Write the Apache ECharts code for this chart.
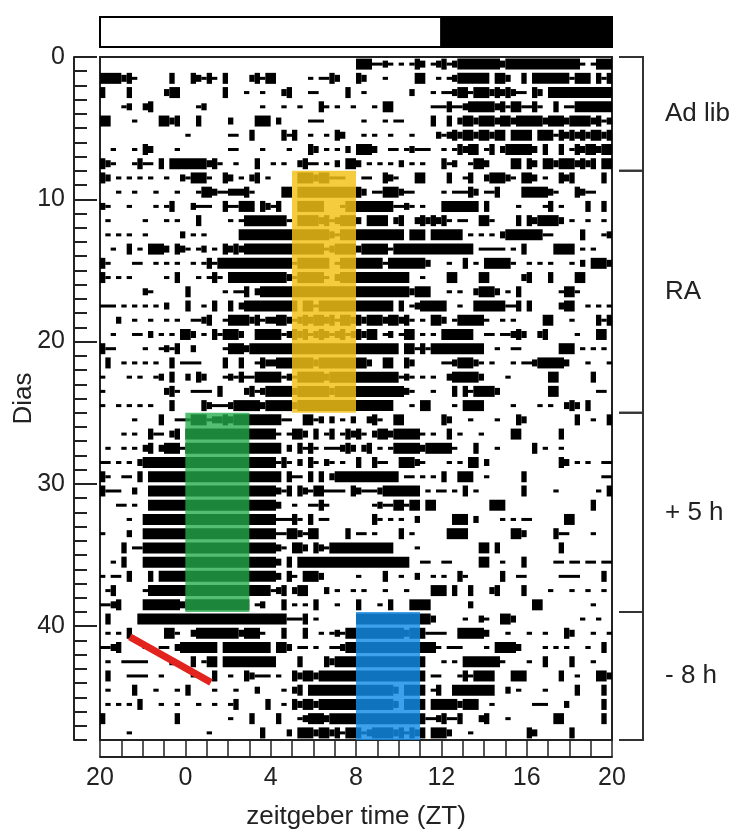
<!DOCTYPE html>
<html>
<head>
<meta charset="utf-8">
<script src="https://cdn.jsdelivr.net/npm/echarts@6/dist/echarts.min.js"></script>
<style>
  html, body { margin: 0; padding: 0; background: #fff; }
  #chart { width: 734px; height: 832px; }
</style>
</head>
<body>
<div id="chart"></div>
<script>
// actogram: one row per day, 15-min bins from ZT20 (-4) to ZT20, written in 4-h groups
// . no activity, - trace, + some, # lots
const activityRows = [
  ["................","................","................","###--+-.-.-#+.-+","#-+########+####","##########-.-###"],
  ["####+#-......#..",".#+-#-.#....+#-#","#......-.--#+...","#+...-.....##..-",".-+######.##+..#",".#######-###.#-#"],
  ["#....#......+##.",".......#...-..-.","..+#...--.....#.",".-........+...-.","--+##-###+#+#+--",".#+.############"],
  ["....-+..+#......","..-+..........-.","..-..-...#-.-..-","...-.##.......--","-#--+#####+#-##-","-#-..#.--#######"],
  ["##....-....##+#.","..#.....+....###",".+.....---......",".-...-.--.....#.",".#.+##+###+##+##","###+###+####+#-+"],
  ["................","-.......--..#...","..#-#..-..-.#+..",".-.-..-...-....+","-+#+##+##+##.###","#.###-#+#+#+##+#"],
  ["..-...-.#+....-.","........--....-.","...-...#+.-.-.+.","###+..--.-+---..","-.-#+##.-#.+####","#+.#..#.-#+##+##"],
  ["#+-...-#--.#.###","####+#-..-...#..","-.-..+#--.-.+.##","+.-.-.-.+.-.-...","#-+..-##+....##.","#+.##+###+#+#.##"],
  ["#+.-.-.-.-..-..+","-###-..#+.-.+#.-",".....###+##---..",".--..#+-...##...",".#..-#..+###+-.#","#+.-..#+#.....#."],
  ["...-..-...-...-.","..-##+--+++#-...","..##.###########","#+.--###+--.....","-.---#+.--#....#","####+-...#+--..."],
  ["+-...-....-.-#..",".+---..#--###.#+","-#...#####...-##","#######--+-.-...","#######.#.....-.","...-#.-....#..#."],
  [".-......-...-.-.","..#.....-.-#####","###-.####+#-+###","+.####.+#..+#+#+","#-.--..##-....#.","#+####+.-..-..-."],
  [".-.-.-..-......+",".-.-......######","###########+-###","#########.###.##","####.-.-.-.+####","###--.....#...-+"],
  ["..-..#.-.###+.#+","-.-+.-.#+#+#####","##########-+####","+#####-#########","######.-----.-.#",".....####.-.-..."],
  ["#-....--..-.-.-.",".-.-#-##########","####-######.-###","#####-#######+..",".-..#.-.#####-..","-.-.-...-.+.###+"],
  ["#-.-.-......-.#.","..-.-#-.########","###+-#####-.+###","##########..-...",".##....##......+","#...#....##....."],
  ["........+-......","#......-.--#.+##","################","##########+###..",".-.-..+###+.-.#.","......-##-......"],
  ["---.-.-.-.-.+...","#..-.#..#.+#####","#####.##-#######","#######.#.-+####","#..-..######--#.","#.....+##..-.-.-"],
  ["...+..-..-..-.-.",".--+#..-####+#-+","+##+-+#+##+#-##+","#+###+##+#-.-.##","+.-#####-..-.-..","...##...-....#-#"],
  ["..-...--.+.-.-.#","#+.-.#-###+..###","##-+#+#-+#+-+#-+","#+##.-+.-##.-.-.","######..--.--+#+","..+#.....-...##."],
  ["#--.....-..-+-#.",".+.....-###+####","################","########.##-#-##","########..-..--.","......###.-.-.-."],
  [".#..-.-.-.-..#.-","---....#..#..-#+","+#######+#######","##+..##..#+.....","--+###+-.-...-.-","-+#####+...-...-"],
  ["-....-.-..-+.#..","+.#+...-+-#--###","##-+-#####+#####","########-+-.-.-.",".+#####+....-...","....##......#..."],
  ["-...........+#-.",".----.#....+#-+#","####+######+####","#########+-...-.","..#.#-####+.....","....##.......--."],
  ["-..-.-.-.-...#..","...#+---+#####+#","####+###########","#######...-.##..","..-.####.....-..","..-.-..+#+.#...."],
  ["......-....#..--","-###-++#+#######","##--..##-+.+.-.+","..+#-..##.......","#+...-....-...#+",".........#..-..#"],
  ["....-.-..#--.+#.","################","#-.-##+.#.-#.-#+","#-.+##+#####-.-.",".#.-...-.....##.","......#........."],
  [".-..-.-.+#.+###-","################","##.+.#-#-.---+#+",".+#.-.-#####+###","##-...#...-.....",".#.-..-........."],
  ["--.-.-.+########","################","#-#-.+.#-.+-.-..","#..#--..###+-...",".-.-.##.+.......","......#+.-.-..--"],
  ["#-..--.#.#######","################","##.#--.#.#.+####","########.--.-.-.","#..###..-......#","..............--"],
  ["#---..+..#######","################","#+-#.#+-##----.#","+---+#######.-.-","-.-.#.-........#",".....-.......-.#"],
  ["...--.-..#######","################","#+..-..--#-.....","...-+--##-##.##.",".........###....","............#..."],
  [".....-..########","################","#---#-.#.--.....","...#-.-.-..+....","..###.+....-.-.-","-......##......."],
  ["-....+..########","################","#--##+-##.....#.","--.-....#.-.....",".####........##+",".....#--....-..."],
  ["....#.--########","################","#+-.##+.#+-#####","#######....-....",".......##.#.....","......#........."],
  ["..-.#...########","################","#+.#.###########","##########..--..","--.....##..-...#",".....--.--.--.--"],
  ["-.--.#...#.#####","################","#+.#-.###+......","-....#..-..+..-.","-..#-......#..--","......----....#."],
  [".-#.....-#######","################","-+#.+##...+.-..-",".-...-...-....##","#.#..#...+#....#","....-...-..-..-."],
  ["--+#....#######+","############.-+.","..#.-.-.#...-...","#...-.#...####..",".....+..........",".##.........-..."],
  [".#.....#########","################","###---#.-.......","##############+.","....-..+-..##+..","..........-..-.."],
  [".-.-.#......##-.",".+########+###-.","..#...#..-.-+-##","#########+###---","-..#####+...-...","-..-...#+...-..-"],
  ["--+#....--.--.+#","######.#########",".##+.--.-..--+##","###############-",".---....-.####+.","...-.-.-...-..#."],
  [".-..-----....+..",".#.-##.#########","#....#....#+####","#############...","-.-.#######-....","-..#....#...-..."],
  [".#...----..-....",".-...#..-..#+---",".-..#+##+#######","#############.--","...-#-####...###","......#..-...##+"],
  [".-....#...-...-.","#....-...-...+..","..-.+#.#########","#######+.####.-#","..########..+.-.","...-.....#....#."],
  [".-.-.-.#...-..-.","..-..-..-#.....#","..-.#+##+#######","#######+.####.##","###+###..-......",".---...+......#."],
  ["#.............#.","........-...#...",".#...-+###+#####","#############--+","#--#...+#...-...",".....##.......#."],
  [".....-..........","....-.........#.","...+.###+##+#-##","#-+####+#-#+#.##","#+...-..........","#+......#......."]
];
const startZT = -4;
const binHours = 0.25;
const levelOf = { '-': 1, '+': 2, '#': 3 };

// light/dark bar on top (ZT from, ZT to, 0 light / 1 dark)
const ldBar = [[-4, 12, 0], [12, 20, 1]];
// food windows: ZT from, ZT to, first day, last day
const feedWindows = [[5, 8, 8, 25], [0, 3, 25, 39], [8, 11, 39, 48]];
const phaseRanges = [[0, 8], [8, 25], [25, 39], [39, 48]];
const phaseLabels = ['Ad lib', 'RA', '+ 5 h', '- 8 h'];
const shiftLine = [[-2.6, 40.75], [1.2, 43.95]];
const dayLabels = [0, 10, 20, 30, 40];

const boutHeight = [0, 3, 7, 11];
const windowColors = ['rgba(244,194,24,0.83)', 'rgba(36,172,76,0.78)', 'rgba(18,142,230,0.82)'];
const font = 'Liberation Sans, Arial, sans-serif';
const ink = '#222';

// turn row strings into runs [x0, x1, day, level]
const bouts = [];
activityRows.forEach((groups, day) => {
  const row = groups.map(g => (g + '................').slice(0, 16)).join('');
  let i = 0;
  while (i < row.length) {
    const lv = levelOf[row[i]] || 0;
    let j = i + 1;
    while (j < row.length && (levelOf[row[j]] || 0) === lv) j++;
    if (lv > 0) bouts.push([startZT + i * binHours, startZT + j * binHours, day, lv]);
    i = j;
  }
});

const chart = echarts.init(document.getElementById('chart'));

chart.setOption({
  animation: false,
  backgroundColor: '#fff',
  grid: [
    { left: 100, right: 122, top: 57, bottom: 92, show: true, borderColor: ink, borderWidth: 2, outerBoundsMode: 'none' },
    { left: 100, right: 122, top: 17, height: 30, outerBoundsMode: 'none' }
  ],
  xAxis: [
    {
      type: 'value', gridIndex: 0, min: -4, max: 20, interval: 1,
      position: 'bottom', offset: 17,
      axisLine: { onZero: false, lineStyle: { color: ink, width: 2 } },
      axisTick: { inside: true, length: 17, lineStyle: { color: ink, width: 1.5 } },
      axisLabel: {
        formatter: v => (v % 4 === 0 ? String(v < 0 ? v + 24 : v) : ''),
        fontSize: 25, color: ink, fontFamily: font, margin: 9
      },
      splitLine: { show: false },
      name: 'zeitgeber time (ZT)', nameLocation: 'middle', nameGap: 47,
      nameTextStyle: { fontSize: 26, color: ink, fontFamily: font }
    },
    { type: 'value', gridIndex: 1, min: -4, max: 20, show: false }
  ],
  yAxis: [
    {
      type: 'value', gridIndex: 0, min: 0, max: 48, interval: 1, inverse: true,
      position: 'left', offset: 26,
      axisLine: { show: true, onZero: false, lineStyle: { color: ink, width: 2 } },
      axisTick: { inside: true, length: 13, lineStyle: { color: ink, width: 2 } },
      axisLabel: {
        formatter: v => (dayLabels.indexOf(v) >= 0 ? String(v) : ''),
        fontSize: 25, color: ink, fontFamily: font, margin: 9
      },
      splitLine: { show: false },
      name: 'Dias', nameLocation: 'middle', nameGap: 37, nameMoveOverlap: false,
      nameTextStyle: { fontSize: 26, color: ink, fontFamily: font }
    },
    {
      type: 'value', gridIndex: 0, min: 0, max: 48, inverse: true,
      position: 'left', offset: 26,
      axisLine: { show: false, onZero: false },
      axisTick: { show: true, customValues: dayLabels, inside: true, length: 23, lineStyle: { color: ink, width: 2 } },
      axisLabel: { show: false },
      splitLine: { show: false }
    },
    { type: 'value', gridIndex: 1, min: 0, max: 1, show: false }
  ],
  series: [
    {
      type: 'custom', xAxisIndex: 0, yAxisIndex: 0, z: 2,
      data: bouts,
      encode: { x: [0, 1], y: 2 },
      renderItem: (params, api) => {
        const a = api.coord([api.value(0), api.value(2) + 0.5]);
        const b = api.coord([api.value(1), api.value(2) + 0.5]);
        const h = boutHeight[api.value(3)];
        return {
          type: 'rect',
          shape: { x: a[0], y: a[1] - h / 2, width: b[0] - a[0], height: h },
          style: { fill: '#000' }
        };
      }
    },
    {
      type: 'custom', xAxisIndex: 0, yAxisIndex: 0, z: 3,
      data: feedWindows,
      encode: { x: [0, 1], y: [2, 3] },
      renderItem: (params, api) => {
        const p0 = api.coord([api.value(0), api.value(2)]);
        const p1 = api.coord([api.value(1), api.value(3)]);
        return {
          type: 'rect',
          shape: { x: p0[0], y: p0[1], width: p1[0] - p0[0], height: p1[1] - p0[1] },
          style: { fill: windowColors[params.dataIndex] }
        };
      }
    },
    {
      type: 'line', xAxisIndex: 0, yAxisIndex: 0, z: 5,
      data: shiftLine, symbol: 'none',
      lineStyle: { color: '#e2231e', width: 7, cap: 'butt' }
    },
    {
      type: 'custom', xAxisIndex: 0, yAxisIndex: 0, z: 4, clip: false,
      data: phaseRanges,
      encode: { y: [0, 1] },
      renderItem: (params, api) => {
        const top = api.coord([20, api.value(0)]);
        const bot = api.coord([20, api.value(1)]);
        const xr = top[0];
        return {
          type: 'group',
          children: [
            {
              type: 'polyline',
              shape: { points: [[xr + 7, top[1]], [xr + 31, top[1]], [xr + 31, bot[1]], [xr + 7, bot[1]]] },
              style: { stroke: '#333', lineWidth: 2, fill: null }
            },
            {
              type: 'text', x: xr + 53, y: (top[1] + bot[1]) / 2,
              style: {
                text: phaseLabels[params.dataIndex], fontSize: 26, fontFamily: font,
                fill: ink, align: 'left', verticalAlign: 'middle'
              }
            }
          ]
        };
      }
    },
    {
      type: 'custom', xAxisIndex: 1, yAxisIndex: 2,
      data: ldBar,
      encode: { x: [0, 1] },
      renderItem: (params, api) => {
        const p0 = api.coord([api.value(0), 1]);
        const p1 = api.coord([api.value(1), 0]);
        return {
          type: 'rect',
          shape: { x: p0[0], y: p0[1], width: p1[0] - p0[0], height: p1[1] - p0[1] },
          style: { fill: api.value(2) ? '#000' : '#fff', stroke: '#000', lineWidth: 2 }
        };
      }
    }
  ]
});
</script>
</body>
</html>
